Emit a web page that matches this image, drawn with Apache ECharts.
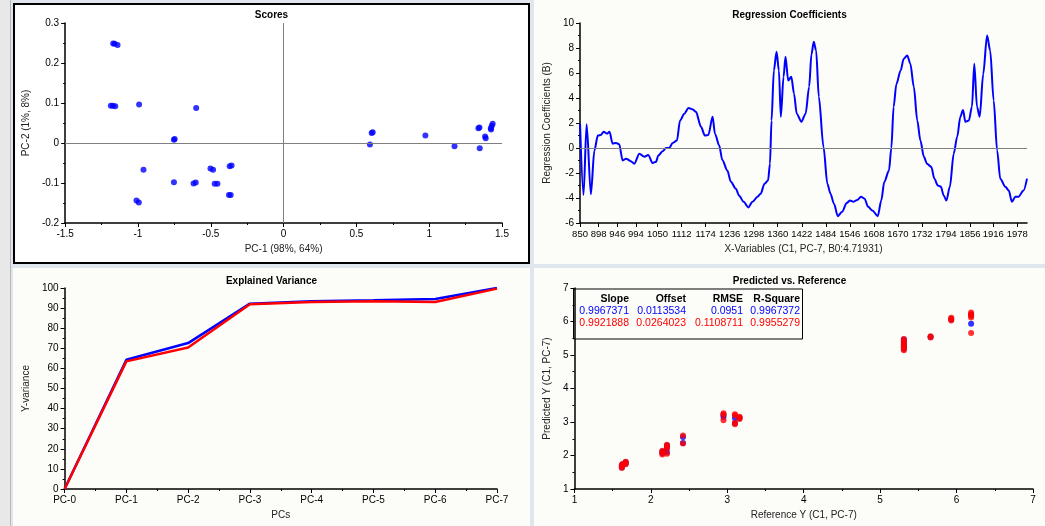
<!DOCTYPE html>
<html>
<head>
<meta charset="utf-8">
<script src="https://cdn.jsdelivr.net/npm/echarts@6/dist/echarts.min.js"></script>
<style>
  html, body { margin: 0; padding: 0; }
  body { width: 1045px; height: 526px; position: relative; overflow: hidden; background: #dfe6ed; }
  .strip { position: absolute; left: 0; top: 0; width: 10px; height: 526px; background: #e8e8e8; border-right: 1px solid #b8b8b8; }
  .panel { position: absolute; }
  .frame { position: absolute; border: 2px solid #000; box-sizing: border-box; pointer-events: none; }
</style>
</head>
<body>
<div class="strip"></div>
<div id="scores" class="panel" style="left:13px;top:3px;width:517px;height:261px;background:#fff"></div>
<div class="frame" style="left:13px;top:3px;width:517px;height:261px"></div>
<div id="coef" class="panel" style="left:534px;top:0;width:511px;height:264px;background:#fcfcf8"></div>
<div id="variance" class="panel" style="left:13px;top:268px;width:517px;height:258px;background:#fcfcf8"></div>
<div id="predref" class="panel" style="left:534px;top:268px;width:511px;height:258px;background:#fcfcf8"></div>
<script>
// ---- data ----
// scores: PC-1 / PC-2
const scoreX = [-1.17, -1.16, -1.14, -1.186, -1.172, -1.156, -0.992, -0.600, -0.753, -0.748,
  -0.962, -1.010, -0.994, -0.753, -0.618, -0.603, -0.502, -0.484, -0.473, -0.454,
  -0.375, -0.363, -0.370, -0.357, 0.605, 0.612, 0.593, 0.974, 1.174, 1.338, 1.345,
  1.347, 1.384, 1.388, 1.423, 1.430, 1.436, 1.425];
const scoreY = [0.249, 0.248, 0.245, 0.093, 0.093, 0.092, 0.096, 0.0875, 0.008, 0.010,
  -0.067, -0.144, -0.149, -0.098, -0.101, -0.099, -0.064, -0.067, -0.102, -0.102,
  -0.130, -0.130, -0.058, -0.056, 0.025, 0.027, -0.004, 0.019, -0.008, 0.037, 0.039,
  -0.013, 0.016, 0.012, 0.037, 0.043, 0.048, 0.034];

// regression coefficients vs wavelength
const coefTicks = [850, 898, 946, 994, 1050, 1112, 1174, 1236, 1298, 1360, 1422, 1484,
  1546, 1608, 1670, 1732, 1794, 1856, 1916, 1978];
const coefNm = [850, 859, 867, 878, 887, 896, 904, 911, 920, 926, 934, 943, 951, 960, 969,
  981, 990, 1003, 1016, 1026, 1037, 1046, 1052, 1063, 1072, 1080, 1089, 1100, 1108, 1119,
  1130, 1140, 1149, 1162, 1172, 1181, 1192, 1198, 1209, 1217, 1230, 1239, 1252, 1260, 1272,
  1284, 1295, 1308, 1316, 1326, 1335, 1340, 1344, 1350, 1357, 1363, 1368, 1375, 1380, 1387,
  1395, 1402, 1409, 1421, 1432, 1441, 1447, 1453, 1459, 1466, 1478, 1488, 1496, 1505, 1515,
  1526, 1538, 1546, 1556, 1565, 1575, 1584, 1593, 1604, 1618, 1627, 1635, 1647, 1653, 1659,
  1666, 1677, 1685, 1694, 1702, 1711, 1720, 1728, 1737, 1745, 1756, 1764, 1773, 1781, 1788,
  1795, 1804, 1814, 1823, 1831, 1838, 1844, 1853, 1861, 1867, 1874, 1881, 1890, 1900, 1908,
  1917, 1926, 1934, 1947, 1956, 1964, 1973, 1981, 1994, 2003];
const coefVal = [1.95, -3.75, 1.9, -3.7, -0.2, 1.0, 1.05, 1.3, 1.15, 1.3, 0.35, 0.4, 0.3,
  -1.0, -0.85, -1.05, -1.25, -0.45, -0.7, -0.55, -1.2, -1.1, -0.6, -0.25, 0, 0.0, 0.4, 0.6,
  2.2, 2.75, 3.2, 3.1, 2.9, 1.7, 1.0, 1.05, 2.5, 1.15, 0.2, -0.95, -1.8, -2.7, -3.25, -3.8,
  -4.3, -4.75, -4.3, -3.9, -3.65, -2.85, -2.6, -1.25, 2.2, 6.2, 7.7, 6.2, 2.5, 5.7, 7.3,
  5.4, 5.7, 4.35, 2.75, 2.1, 2.75, 4.9, 7.5, 8.5, 7.8, 4.1, 0.1, -2.85, -3.65, -4.45, -5.45,
  -5.1, -4.4, -4.2, -4.3, -4.15, -3.9, -4.05, -4.7, -5.0, -5.45, -4.2, -2.7, -1.8, 0, 3.3,
  5.1, 6.2, 7.15, 7.4, 6.75, 4.9, 2.2, 0.6, -0.7, -1.25, -1.5, -2.45, -3.0, -3.1, -3.8,
  -4.2, -3.1, -0.45, 0.9, 2.5, 3.05, 2.1, 2.2, 3.3, 6.75, 3.3, 2.5, 5.9, 9.0, 7.8, 3.8,
  -0.2, -2.45, -3.1, -3.4, -4.3, -3.9, -3.9, -3.4, -2.45];

// explained variance
const pcLabels = ['PC-0', 'PC-1', 'PC-2', 'PC-3', 'PC-4', 'PC-5', 'PC-6', 'PC-7'];
const calVariance = [0, 64.3, 72.6, 92.2, 93.4, 93.9, 94.5, 100];
const valVariance = [0, 63.5, 70.4, 91.9, 93.0, 93.4, 93.0, 99.7];

// predicted vs reference
const calRef = [1.62, 1.62, 1.63, 1.67, 1.67, 2.15, 2.15, 2.21, 2.21, 2.21, 2.42, 2.42,
  2.95, 2.95, 3.10, 3.10, 3.16, 5.31, 5.31, 5.31, 5.31, 5.31, 5.66, 5.93, 6.19, 6.19];
const calPred = [1.65, 1.70, 1.74, 1.76, 1.80, 2.07, 2.12, 2.10, 2.24, 2.30, 2.37, 2.55,
  3.15, 3.22, 3.12, 2.96, 3.12, 5.18, 5.26, 5.33, 5.40, 5.46, 5.54, 6.06, 5.93, 6.20];
const valRef = [1.62, 1.62, 1.62, 1.63, 1.67, 1.67, 1.67, 2.15, 2.15, 2.15, 2.21, 2.21,
  2.21, 2.21, 2.42, 2.42, 2.95, 2.95, 2.95, 3.10, 3.10, 3.10, 3.10, 3.16, 3.16, 3.16,
  5.31, 5.31, 5.31, 5.31, 5.31, 5.31, 5.31, 5.66, 5.66, 5.93, 5.93, 5.93, 6.19, 6.19,
  6.19, 6.19, 6.19];
const valPred = [1.63, 1.68, 1.72, 1.75, 1.74, 1.78, 1.81, 2.03, 2.09, 2.14, 2.05, 2.21,
  2.27, 2.32, 2.36, 2.60, 3.05, 3.21, 3.26, 2.93, 2.98, 3.20, 3.23, 3.09, 3.13, 3.16,
  5.14, 5.20, 5.25, 5.30, 5.36, 5.42, 5.48, 5.52, 5.56, 6.03, 6.08, 6.11, 5.66, 6.12,
  6.17, 6.22, 6.27];
const statHeader = ['Slope', 'Offset', 'RMSE', 'R-Square'];
const calStats = ['0.9967371', '0.0113534', '0.0951', '0.9967372'];
const valStats = ['0.9921888', '0.0264023', '0.1108711', '0.9955279'];

// ---- style helpers ----
const FONT = '"Liberation Sans", Arial, sans-serif';
const BLUE = '#0000ff';
const RED = '#ff0000';

function label(extra) {
  return Object.assign({ color: '#000', fontSize: 10, fontFamily: FONT, margin: 6 }, extra);
}

function axis(extra) {
  return Object.assign({
    type: 'value',
    nameLocation: 'middle',
    nameTextStyle: { color: '#222', fontSize: 10, fontFamily: FONT },
    axisLine: { show: true, onZero: false, lineStyle: { color: '#000', width: 1.5 } },
    axisTick: { show: true, length: 4, lineStyle: { color: '#000' } },
    minorTick: { show: true, splitNumber: 2, length: 2, lineStyle: { color: '#000' } },
    axisLabel: label(),
    splitLine: { show: false }
  }, extra);
}

function title(text, top) {
  return {
    text: text, left: 'center', top: top,
    textStyle: { fontSize: 10, fontWeight: 'bold', color: '#000', fontFamily: FONT }
  };
}

const zeroLine = (data) => ({
  silent: true, symbol: 'none', animation: false,
  label: { show: false },
  lineStyle: { color: '#808080', width: 1, type: 'solid' },
  data: data
});

function zip(a, b) { return a.map((v, i) => [v, b[i]]); }

function makeChart(id, option) {
  const chart = echarts.init(document.getElementById(id));
  chart.setOption(Object.assign({ animation: false }, option));
  return chart;
}

// ---- Scores ----
makeChart('scores', {
  title: title('Scores', 2),
  grid: { left: 50, top: 20, width: 439, height: 200 },
  xAxis: axis({ min: -1.5, max: 1.5, interval: 0.5, name: 'PC-1 (98%, 64%)', nameGap: 17 }),
  yAxis: axis({ min: -0.2, max: 0.3, interval: 0.1, name: 'PC-2 (1%, 8%)', nameGap: 20 }),
  series: [{
    type: 'scatter', symbolSize: 6, itemStyle: { color: BLUE },
    data: zip(scoreX, scoreY),
    markLine: zeroLine([{ xAxis: 0 }, { yAxis: 0 }])
  }]
});

// ---- Regression Coefficients ----
makeChart('coef', {
  title: title('Regression Coefficients', 5),
  grid: { left: 45, top: 23, width: 448, height: 200 },
  xAxis: axis({
    min: 850, max: 2003, name: 'X-Variables (C1, PC-7, B0:4.71931)', nameGap: 18,
    axisTick: { show: true, length: 4, lineStyle: { color: '#000' }, customValues: coefTicks },
    minorTick: { show: false },
    axisLabel: label({ fontSize: 9.5, customValues: coefTicks, hideOverlap: false, formatter: (v) => String(v) })
  }),
  yAxis: axis({ min: -6, max: 10, interval: 2, name: 'Regression Coefficients (B)', nameGap: 14 }),
  series: [{
    type: 'line', showSymbol: false, smooth: 0.3, smoothMonotone: 'x',
    lineStyle: { color: BLUE, width: 2 }, itemStyle: { color: BLUE },
    data: zip(coefNm, coefVal),
    markLine: zeroLine([{ yAxis: 0 }])
  }]
});

// ---- Explained Variance ----
makeChart('variance', {
  title: title('Explained Variance', 3),
  grid: { left: 48, top: 20, width: 436, height: 201 },
  xAxis: axis({
    min: 0, max: 7, interval: 1, name: 'PCs', nameGap: 17,
    axisLabel: label({ margin: 6, formatter: (v) => pcLabels[v] })
  }),
  yAxis: axis({ min: 0, max: 100, interval: 10, name: 'Y-variance', nameGap: 19 }),
  series: [
    { type: 'line', showSymbol: false, lineStyle: { color: BLUE, width: 2.5 }, itemStyle: { color: BLUE },
      data: calVariance.map((v, i) => [i, v]) },
    { type: 'line', showSymbol: false, lineStyle: { color: RED, width: 2.5 }, itemStyle: { color: RED },
      data: valVariance.map((v, i) => [i, v]) }
  ]
});

// ---- Predicted vs. Reference ----
const colRight = [95, 152, 209, 266];
const rowY = [31, 43, 55];
const statText = [];
[[statHeader, '#000', 'bold'], [calStats, BLUE, 'normal'], [valStats, RED, 'normal']].forEach((row, r) => {
  row[0].forEach((t, c) => {
    statText.push({
      type: 'text', x: colRight[c], y: rowY[r], z: 12,
      style: { text: t, fill: row[1], align: 'right', verticalAlign: 'middle',
        font: row[2] + ' 10.5px ' + FONT }
    });
  });
});

makeChart('predref', {
  title: title('Predicted vs. Reference', 3),
  grid: { left: 39, top: 20, width: 460, height: 201 },
  xAxis: axis({ min: 1, max: 7, interval: 1, name: 'Reference Y (C1, PC-7)', nameGap: 16 }),
  yAxis: axis({ min: 1, max: 7, interval: 1, name: 'Predicted Y (C1, PC-7)', nameGap: 11 }),
  graphic: [
    { type: 'rect', z: 10, shape: { x: 39.5, y: 21, width: 229, height: 50 },
      style: { fill: 'none', stroke: '#000', lineWidth: 1 } }
  ].concat(statText),
  series: [
    { type: 'scatter', symbolSize: 6, itemStyle: { color: BLUE }, data: zip(calRef, calPred) },
    { type: 'scatter', symbolSize: 6, itemStyle: { color: RED }, data: zip(valRef, valPred) }
  ]
});
</script>
</body>
</html>
